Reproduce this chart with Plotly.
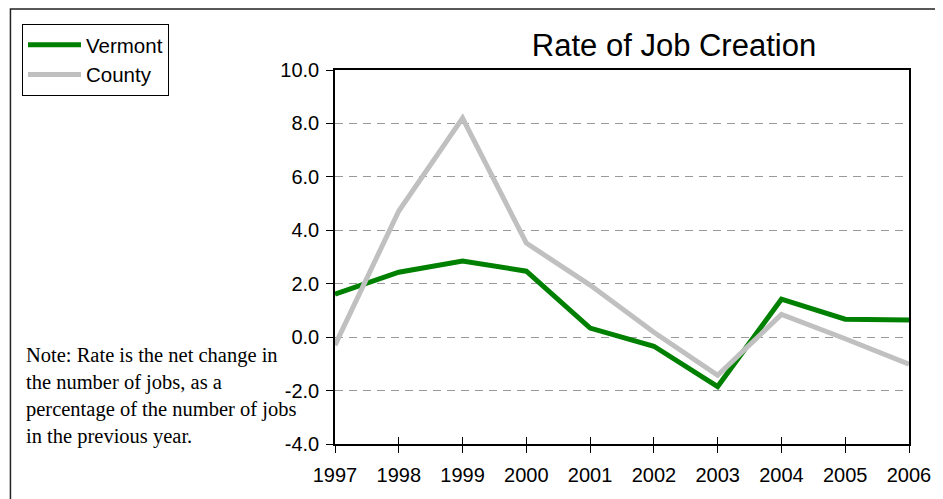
import plotly.graph_objects as go

years = [1997, 1998, 1999, 2000, 2001, 2002, 2003, 2004, 2005, 2006]
vermont = [1.61, 2.43, 2.85, 2.47, 0.34, -0.34, -1.85, 1.42, 0.67, 0.64]
county = [-0.30, 4.72, 8.20, 3.52, 1.95, 0.18, -1.43, 0.85, -0.06, -1.01]
y_ticks = [-4, -2, 0, 2, 4, 6, 8, 10]
title_text = "Rate of Job Creation"
note_lines = [
    "Note: Rate is the net change in",
    "the number of jobs, as a",
    "percentage of the number of jobs",
    "in the previous year.",
]

# figure sits at (8,8) in the page because of the body margin
W, H = 935, 491
L, R, T, B = 327, 31, 62, 55
pw, ph = W - L - R, H - T - B

fig = go.Figure()
fig.add_trace(go.Scatter(x=years, y=vermont, mode="lines", name="Vermont",
                         line=dict(color="#008000", width=5), legendgroup="a"))
fig.add_trace(go.Scatter(x=years, y=county, mode="lines", name="County",
                         line=dict(color="#C0C0C0", width=5), legendgroup="b"))
# helper trace for the overlay axis carrying inner tick marks
fig.add_trace(go.Scatter(x=[years[0]], y=[None], xaxis="x2", showlegend=False,
                         hoverinfo="skip", mode="lines"))

font_sans = "Arial, Liberation Sans, sans-serif"
fig.update_layout(
    width=W, height=H,
    margin=dict(l=L, r=R, t=T, b=B),
    paper_bgcolor="white", plot_bgcolor="white",
    font=dict(family=font_sans, color="black", size=20),
    title=dict(text=title_text, x=666 / W, xref="container", xanchor="center",
               y=1 - 37 / H, yref="container", yanchor="middle",
               font=dict(size=31, family=font_sans, color="black")),
    showlegend=True,
    legend=dict(x=14 / W, y=1 - 16 / H, xref="container", yref="container",
                xanchor="left", yanchor="top", bordercolor="black", borderwidth=1,
                bgcolor="white", font=dict(size=20.5, family=font_sans),
                traceorder="grouped", tracegroupgap=0, itemwidth=53,
                entrywidth=150, entrywidthmode="pixels"),
    xaxis=dict(range=[years[0], years[-1]], tickmode="array", tickvals=years,
               ticktext=[str(y) for y in years], ticks="outside", ticklen=7,
               tickwidth=1, tickcolor="black", showline=True, linecolor="black",
               linewidth=2, mirror=True, showgrid=False, zeroline=False,
               ticklabelstandoff=5, tickfont=dict(size=20)),
    xaxis2=dict(range=[years[0], years[-1]], overlaying="x", anchor="y", side="bottom",
                tickmode="array", tickvals=years, ticks="inside", ticklen=7,
                tickwidth=1, tickcolor="black", showticklabels=False,
                showline=False, showgrid=False, zeroline=False),
    yaxis=dict(range=[-4, 10], tickmode="array", tickvals=y_ticks,
               ticktext=["%.1f" % v for v in y_ticks], ticks="outside", ticklen=7,
               tickwidth=1, tickcolor="black", showline=True, linecolor="black",
               linewidth=1.5, mirror=True, showgrid=True, gridcolor="#9a9a9a",
               griddash="8px,6px", gridwidth=1, zeroline=False,
               ticklabelstandoff=3, tickfont=dict(size=20)),
)

# outer frame of the chart
fig.add_shape(type="rect", xref="paper", yref="paper",
              x0=(0.75 - L) / pw, x1=(W + 20 - L) / pw,
              y0=-(B + 20) / ph, y1=(T + ph - 1) / ph,
              line=dict(color="#222222", width=1.5), layer="below")

note_y = [347, 374, 401, 428]
for txt, yy in zip(note_lines, note_y):
    fig.add_annotation(text=txt, xref="paper", yref="paper",
                       x=(14 - L) / pw, y=(T + ph - yy) / ph,
                       xanchor="left", yanchor="middle", showarrow=False,
                       font=dict(family="Times New Roman, Liberation Serif, serif",
                                 size=20.5, color="black"))

fig.write_html("out.html")
